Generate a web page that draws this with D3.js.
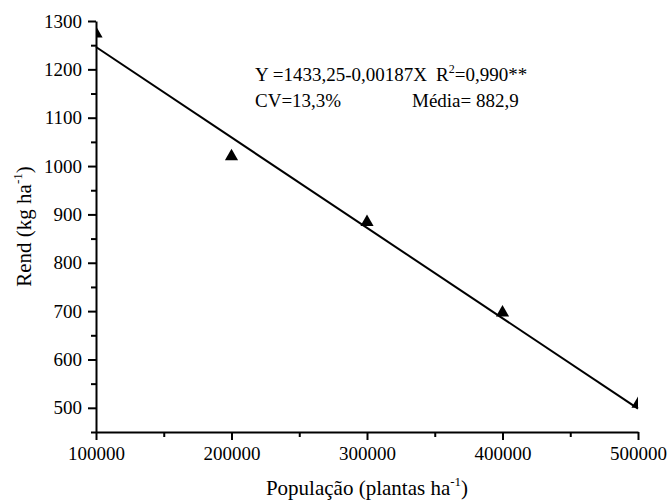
<!DOCTYPE html>
<html>
<head>
<meta charset="utf-8">
<script src="https://cdn.jsdelivr.net/npm/d3@7"></script>
<style>
  body { margin: 0; background: #fff; }
</style>
</head>
<body>
<div id="chart"></div>
<script>
// population (plants/ha) and yield (kg/ha)
const populacao = [100000, 200000, 300000, 400000, 500000];
const rend = [1277, 1023, 887, 700, 511];
// fitted model Y = a + bX
const coef = [1433.25, -0.00187];
const xTicks = [100000, 200000, 300000, 400000, 500000];
const yTicks = [500, 600, 700, 800, 900, 1000, 1100, 1200, 1300];

const width = 669, height = 501;
const margin = {top: 21, right: 31, bottom: 69, left: 96};
const w = width - margin.left - margin.right,
      h = height - margin.top - margin.bottom;
const serif = "'Liberation Serif', 'Times New Roman', serif";

const svg = d3.select("#chart").append("svg")
    .attr("width", width)
    .attr("height", height);

const x = d3.scaleLinear().domain([100000, 500000]).range([0, w]);
const y = d3.scaleLinear().domain([450, 1300]).range([h, 0]);

const g = svg.append("g")
    .attr("transform", "translate(" + margin.left + "," + margin.top + ")");

svg.append("defs").append("clipPath").attr("id", "clip")
  .append("rect").attr("x", 0).attr("y", -5).attr("width", w).attr("height", h + 5);

// minor ticks
g.append("g")
    .attr("transform", "translate(0," + h + ")")
    .call(d3.axisBottom(x).tickValues(d3.range(150000, 500000, 100000)).tickSize(5).tickFormat(""))
    .call(a => a.select(".domain").remove())
    .selectAll("line").attr("stroke-width", 2);
g.append("g")
    .call(d3.axisLeft(y).tickValues(d3.range(450, 1300, 100)).tickSize(5).tickFormat(""))
    .call(a => a.select(".domain").remove())
    .selectAll("line").attr("stroke-width", 2);

// main axes
const xAxis = g.append("g")
    .attr("transform", "translate(0," + h + ")")
    .call(d3.axisBottom(x).tickValues(xTicks).tickSize(8).tickSizeOuter(0).tickPadding(7).tickFormat(d3.format("d")));

const yAxis = g.append("g")
    .call(d3.axisLeft(y).tickValues(yTicks).tickSize(8).tickSizeOuter(0).tickPadding(6).tickFormat(d3.format("d")));

[xAxis, yAxis].forEach(a => {
  a.attr("font-family", serif).attr("font-size", 19);
  a.select(".domain").attr("stroke-width", 2);
  a.selectAll("line").attr("stroke-width", 2);
});

// regression line
const line = d3.line().x(d => x(d)).y(d => y(coef[0] + coef[1] * d));
g.append("path")
    .datum([populacao[0], populacao[populacao.length - 1]])
    .attr("d", line)
    .attr("fill", "none")
    .attr("stroke", "#000")
    .attr("stroke-width", 2);

// observed points
g.append("g").attr("clip-path", "url(#clip)")
  .selectAll("path")
  .data(populacao.map((p, i) => [p, rend[i]]))
  .join("path")
    .attr("transform", d => "translate(" + x(d[0]) + "," + (y(d[1]) + 1.5) + ")")
    .attr("d", d3.symbol(d3.symbolTriangle, 75))
    .attr("fill", "#000");

// equation text
const eq = svg.append("text").attr("x", 255).attr("y", 81).style("font-size", "19px");
eq.append("tspan").text("Y =1433,25-0,00187X");
eq.append("tspan").attr("dx", 9).text("R");
eq.append("tspan").attr("dy", -8).style("font-size", "12px").text("2");
eq.append("tspan").attr("dy", 8).text("=0,990**");

const cv = svg.append("text").attr("y", 107).style("font-size", "19px");
cv.append("tspan").attr("x", 255).text("CV=13,3%");
cv.append("tspan").attr("x", 412).text("Média= 882,9");

// axis titles
const xl = svg.append("text")
    .attr("x", margin.left + w / 2).attr("y", 495)
    .attr("text-anchor", "middle").style("font-size", "21px");
xl.append("tspan").text("População (plantas ha");
xl.append("tspan").attr("dy", -9).style("font-size", "13px").text("-1");
xl.append("tspan").attr("dy", 9).text(")");

const yl = svg.append("text")
    .attr("transform", "translate(31," + (margin.top + h / 2) + ") rotate(-90)")
    .attr("text-anchor", "middle").style("font-size", "21px");
yl.append("tspan").text("Rend (kg ha");
yl.append("tspan").attr("dy", -9).style("font-size", "13px").text("-1");
yl.append("tspan").attr("dy", 9).text(")");

svg.selectAll("text").style("font-family", serif).attr("fill", "#000");
</script>
</body>
</html>
